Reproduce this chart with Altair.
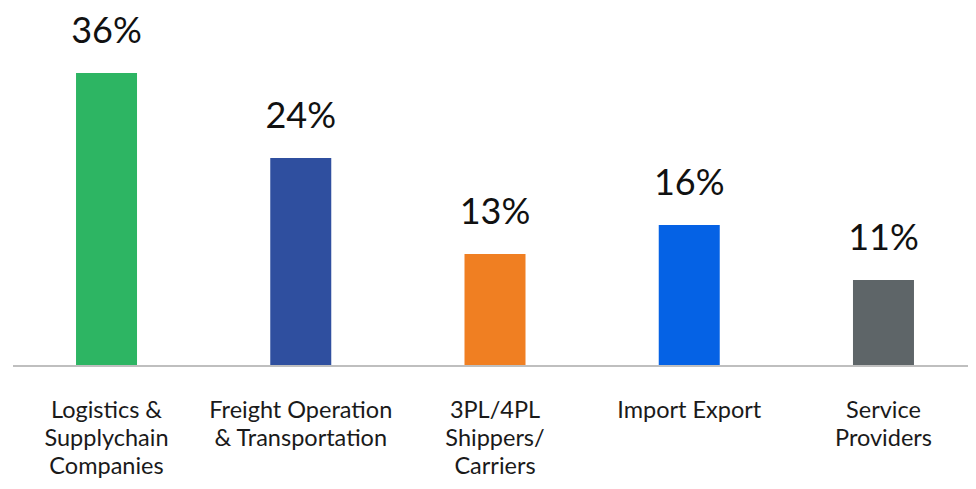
import altair as alt
import pandas as pd

categories = ["Logistics &\nSupplychain\nCompanies", "Freight Operation\n& Transportation",
              "3PL/4PL\nShippers/\nCarriers", "Import Export", "Service\nProviders"]
bar_values = [36.0, 25.55, 13.76, 17.32, 10.57]
value_labels = ["36%", "24%", "13%", "16%", "11%"]
colors = ["#2DB563", "#2F4F9F", "#F07F22", "#0562E5", "#5E6568"]

df = pd.DataFrame({"cat": categories, "value": bar_values, "label": value_labels, "color": colors})

FONT = "Lato"

x = alt.X("cat:N", sort=categories, title=None,
          scale=alt.Scale(range=[1.4, 972.6], paddingInner=0, paddingOuter=0),
          axis=alt.Axis(domain=False, ticks=False, labelAngle=0, labelFont=FONT,
                        labelFontSize=23.5, labelColor="#1a1a1a", labelPadding=32,
                        labelBaseline="top", labelLineHeight=28, labelLimit=300,
                        labelExpr="split(datum.label, '\\n')"))
y = alt.Y("value:Q", scale=alt.Scale(domain=[0, 44], nice=False), axis=None)

bars = alt.Chart(df).mark_bar(size=61).encode(
    x=x, y=y, color=alt.Color("color:N", scale=None))

text = alt.Chart(df).mark_text(dy=-30, baseline="alphabetic", font=FONT, fontSize=36,
                               color="#111111").encode(x=x, y=y, text="label:N")

rule = alt.Chart(df).mark_rule(color="#BFBFBF", strokeWidth=2).encode(
    x=alt.value(5), x2=alt.value(960), y=alt.datum(0))

chart = alt.layer(bars, text, rule).properties(
    width=960, height=358,
    padding={"left": 0, "top": 0, "right": 0, "bottom": 114},
    autosize=alt.AutoSizeParams(type="none")
).configure_view(stroke=None)

chart.save("out.html", embed_options={"renderer": "svg", "actions": False})
